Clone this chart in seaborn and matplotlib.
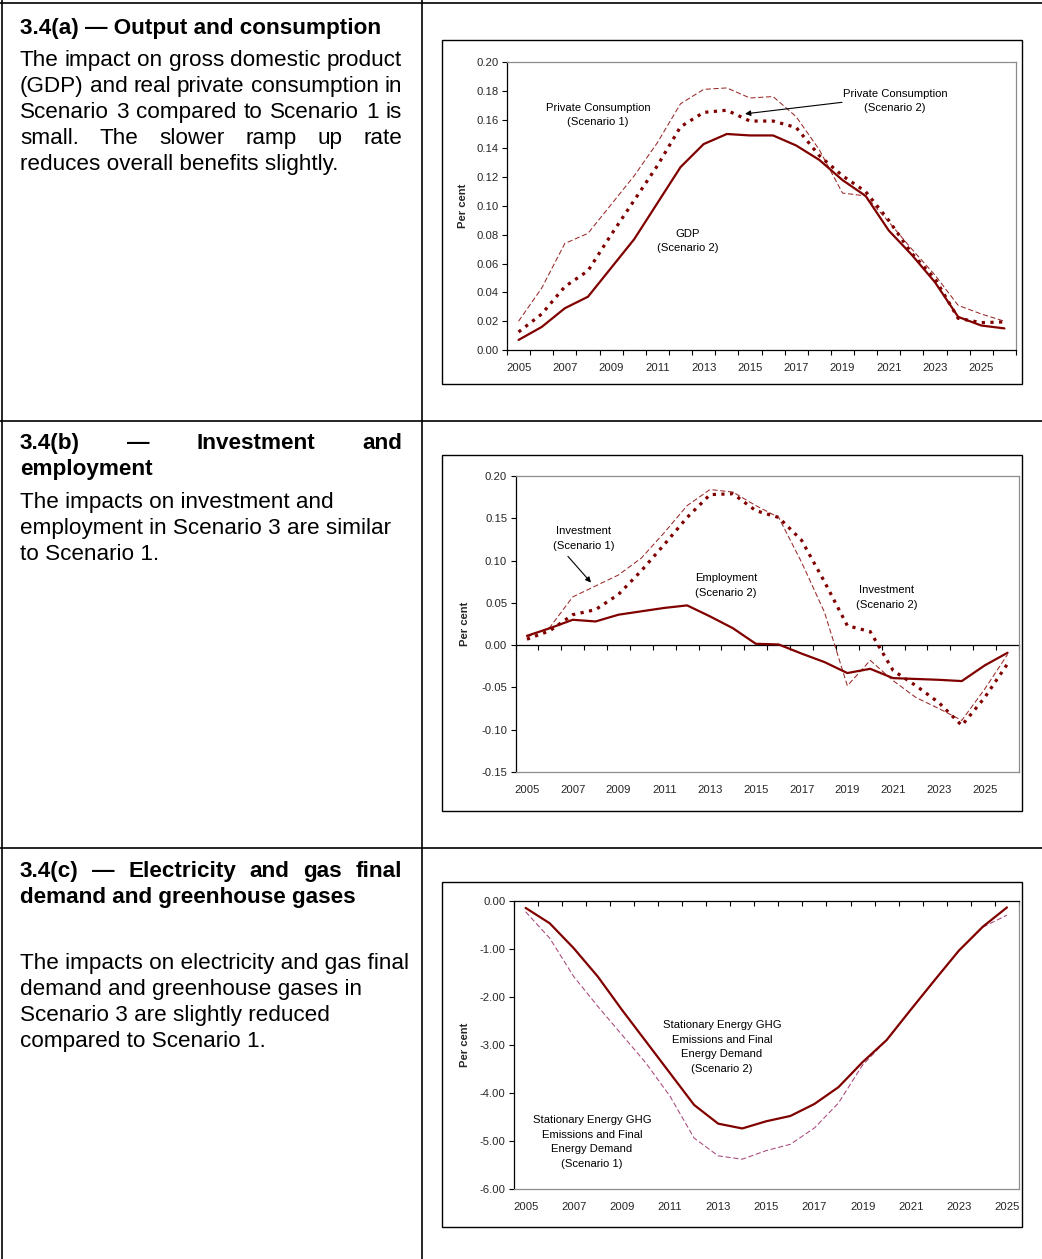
import matplotlib
matplotlib.use("Agg")
import matplotlib.pyplot as plt
import matplotlib.patches as mpatches
import matplotlib.lines as mlines
import numpy as np
import pandas as pd
import seaborn as sns

sns.set_theme(style="white")
plt.rcParams['font.family'] = ['Liberation Sans', 'DejaVu Sans']

# ---------------- data ----------------
years_ab = list(range(2005, 2027))
years_c = list(range(2005, 2026))

gdp_s2 = [0.007, 0.016, 0.029, 0.037, 0.057, 0.077, 0.102, 0.127, 0.143, 0.150, 0.149,
          0.149, 0.142, 0.132, 0.118, 0.107, 0.083, 0.066, 0.047, 0.023, 0.017, 0.015]
pc_s2 = [0.0125, 0.025, 0.044, 0.055, 0.080, 0.104, 0.128, 0.155, 0.165, 0.1665, 0.159,
         0.159, 0.1545, 0.135, 0.121, 0.110, 0.090, 0.067, 0.0495, 0.022, 0.019, 0.0195]
pc_s1 = [0.020, 0.043, 0.074, 0.081, 0.101, 0.121, 0.144, 0.171, 0.181, 0.182, 0.175,
         0.176, 0.162, 0.139, 0.109, 0.107, 0.089, 0.070, 0.052, 0.031, 0.025, 0.020]

emp_s2 = [0.011, 0.020, 0.030, 0.028, 0.036, 0.040, 0.044, 0.047, 0.034, 0.020, 0.0016,
          0.0008, -0.010, -0.020, -0.033, -0.028, -0.039, -0.040, -0.041, -0.0425, -0.024, -0.009]
inv_s2 = [0.007, 0.017, 0.036, 0.042, 0.060, 0.088, 0.119, 0.151, 0.178, 0.179, 0.159,
          0.151, 0.124, 0.075, 0.023, 0.016, -0.030, -0.048, -0.068, -0.095, -0.062, -0.022]
inv_s1 = [0.0095, 0.021, 0.057, 0.070, 0.083, 0.103, 0.133, 0.165, 0.184, 0.181, 0.165,
          0.151, 0.098, 0.039, -0.048, -0.018, -0.042, -0.062, -0.075, -0.089, -0.052, -0.011]

ghg_s2 = [-0.15, -0.47, -0.99, -1.58, -2.27, -2.93, -3.59, -4.25, -4.64, -4.74, -4.59,
          -4.48, -4.23, -3.88, -3.36, -2.90, -2.27, -1.65, -1.04, -0.54, -0.14]
ghg_s1 = [-0.23, -0.78, -1.58, -2.20, -2.79, -3.38, -4.07, -4.94, -5.31, -5.38, -5.20,
          -5.07, -4.73, -4.21, -3.42, -2.90, -2.27, -1.65, -1.04, -0.55, -0.30]

label_years_ab = list(range(2005, 2026, 2))
label_years_c = list(range(2005, 2026, 2))

# ---------------- figure ----------------
W, H = 1042, 1259
fig = plt.figure(figsize=(W / 100, H / 100), dpi=100)
fig.patch.set_facecolor("white")

DARK = "#800000"
THIN = "#9a2a2a"
PLUM = "#a8467a"
GRAY = "#8c8c8c"


def fx(px):
    return px / W


def fy(py):
    return 1 - py / H


# table grid
def hline(y, x0=0, x1=W, lw=1.2):
    fig.add_artist(mlines.Line2D([fx(x0), fx(x1)], [fy(y), fy(y)], color="black", lw=lw,
                                 transform=fig.transFigure))


def vline(x, y0=0, y1=H, lw=1.2):
    fig.add_artist(mlines.Line2D([fx(x), fx(x)], [fy(y0), fy(y1)], color="black", lw=lw,
                                 transform=fig.transFigure))


hline(2.5)
hline(420.5)
hline(847.5)
vline(2.0)
vline(422)

# chart boxes
for (x0, y0, x1, y1) in [(442, 40, 1022, 384), (442, 455, 1022, 811), (442, 882, 1022, 1227)]:
    fig.add_artist(mpatches.Rectangle((fx(x0), fy(y1)), fx(x1) - fx(x0), fy(y0) - fy(y1),
                                      fill=False, edgecolor="black", lw=1.0,
                                      transform=fig.transFigure))

# ---------------- left column text ----------------
FS = 16.2
renderer = fig.canvas.get_renderer()


def put_line(text, y_px, bold=False, justify=False, x0=20, x1=402):
    weight = "bold" if bold else "normal"
    if not justify:
        fig.text(fx(x0), fy(y_px), text, fontsize=FS, fontweight=weight,
                 ha="left", va="baseline", color="black")
        return
    words = text.split()
    ts = [fig.text(0, fy(y_px), w, fontsize=FS, fontweight=weight, ha="left",
                   va="baseline", color="black") for w in words]
    widths = [t.get_window_extent(renderer).width for t in ts]
    gap = (x1 - x0 - sum(widths)) / (len(words) - 1)
    x = x0
    for t, w in zip(ts, widths):
        t.set_x(fx(x))
        x += w + gap


put_line("3.4(a) \u2014 Output and consumption", 34, bold=True)
put_line("The impact on gross domestic product", 66, justify=True)
put_line("(GDP) and real private consumption in", 92, justify=True)
put_line("Scenario 3 compared to Scenario 1 is", 118, justify=True)
put_line("small. The slower ramp up rate", 144, justify=True)
put_line("reduces overall benefits slightly.", 170)

put_line("3.4(b) \u2014 Investment and", 449, bold=True, justify=True)
put_line("employment", 475, bold=True)
put_line("The impacts on investment and", 508)
put_line("employment in Scenario 3 are similar", 534)
put_line("to Scenario 1.", 560)

put_line("3.4(c) \u2014 Electricity and gas final", 877, bold=True, justify=True)
put_line("demand and greenhouse gases", 903, bold=True)
put_line("The impacts on electricity and gas final", 969)
put_line("demand and greenhouse gases in", 995)
put_line("Scenario 3 are slightly reduced", 1021)
put_line("compared to Scenario 1.", 1047)

# ---------------- charts ----------------
TFS = 8.1


def make_ax(left, right, top, bottom):
    return fig.add_axes([fx(left), fy(bottom), fx(right) - fx(left), fy(top) - fy(bottom)])


def style_common(ax, years, label_years, ylim, yticks):
    ax.set_facecolor("white")
    ax.set_xlim(years[0] - 0.5, years[-1] + 0.5)
    ax.set_ylim(*ylim)
    ax.set_yticks(yticks)
    ax.set_yticklabels([f"{v:.2f}" for v in yticks])
    ax.set_xticks(label_years)
    ax.set_xticklabels([str(y) for y in label_years])
    ax.set_xticks(np.arange(years[0] - 0.5, years[-1] + 1.0, 1.0), minor=True)
    ax.tick_params(axis="y", which="major", direction="out", length=3.5, width=0.8,
                   color="black", labelsize=TFS, pad=2.5, left=True)
    ax.tick_params(axis="x", which="major", length=0, labelsize=TFS, pad=9.5)
    ax.set_xlabel("")
    ax.set_ylabel("")
    for s in ["top", "right", "bottom"]:
        ax.spines[s].set_color(GRAY)
        ax.spines[s].set_linewidth(0.9)
    ax.spines["left"].set_color("black")
    ax.spines["left"].set_linewidth(0.9)
    ax.grid(False)


def line(ax, years, vals, kind, color=None):
    df = pd.DataFrame({"year": years, "value": vals})
    if kind == "solid":
        sns.lineplot(data=df, x="year", y="value", ax=ax, color=DARK, lw=1.6,
                     linestyle="-", solid_joinstyle="round")
    elif kind == "dotted":
        sns.lineplot(data=df, x="year", y="value", ax=ax, color=DARK, lw=2.3,
                     linestyle=(0, (1.0, 1.7)))
    elif kind == "thin":
        sns.lineplot(data=df, x="year", y="value", ax=ax, color=color or THIN, lw=0.75,
                     linestyle=(0, (5, 2.5)))


def note(ax, x, y, s):
    ax.text(x, y, s, fontsize=TFS, ha="center", va="center", color="black", linespacing=1.55)


# --- (a)
axA = make_ax(507, 1016, 62, 350)
line(axA, years_ab, pc_s1, "thin")
line(axA, years_ab, pc_s2, "dotted")
line(axA, years_ab, gdp_s2, "solid")
style_common(axA, years_ab, label_years_ab, (0, 0.20), np.round(np.arange(0, 0.201, 0.02), 2))
axA.spines["bottom"].set_color("black")
axA.tick_params(axis="x", which="minor", direction="out", length=3.5, width=0.8,
                color="black", bottom=True)
note(axA, 2008.43, 0.163, "Private Consumption\n(Scenario 1)")
note(axA, 2021.27, 0.173, "Private Consumption\n(Scenario 2)")
note(axA, 2012.32, 0.0757, "GDP\n(Scenario 2)")
axA.annotate("", xy=(2014.79, 0.164), xytext=(2018.98, 0.172),
             arrowprops=dict(arrowstyle="-|>", color="black", lw=0.8, mutation_scale=8,
                             shrinkA=0, shrinkB=0))

# --- (b)
axB = make_ax(515.5, 1019, 476, 772)
line(axB, years_ab, inv_s1, "thin")
line(axB, years_ab, inv_s2, "dotted")
line(axB, years_ab, emp_s2, "solid")
style_common(axB, years_ab, label_years_ab, (-0.15, 0.20),
             np.round(np.arange(-0.15, 0.201, 0.05), 2))
axB.tick_params(axis="x", which="minor", length=0)
zero_frac = (0 - (-0.15)) / (0.20 - (-0.15))
sec = axB.secondary_xaxis(zero_frac)
sec.set_xticks(np.arange(years_ab[0] - 0.5, years_ab[-1] + 1.0, 1.0))
sec.set_xticklabels([])
sec.tick_params(direction="out", length=3.5, width=0.8, color="black")
for s in sec.spines.values():
    s.set_color("black")
    s.set_linewidth(0.9)
note(axB, 2007.49, 0.126, "Investment\n(Scenario 1)")
note(axB, 2013.7, 0.0706, "Employment\n(Scenario 2)")
note(axB, 2020.7, 0.0564, "Investment\n(Scenario 2)")
axB.annotate("", xy=(2007.80, 0.074), xytext=(2006.79, 0.105),
             arrowprops=dict(arrowstyle="-|>", color="black", lw=0.8, mutation_scale=8,
                             shrinkA=0, shrinkB=0))

# --- (c)
axC = make_ax(513.6, 1019, 900.7, 1189)
line(axC, years_c, ghg_s1, "thin", color=PLUM)
line(axC, years_c, ghg_s2, "solid")
style_common(axC, years_c, label_years_c, (-6, 0), np.arange(-6, 0.01, 1.0))
axC.spines["top"].set_color("black")
axC.tick_params(axis="x", which="minor", direction="in", length=3.5, width=0.8,
                color="black", top=True, bottom=False)
note(axC, 2013.16, -3.045, "Stationary Energy GHG\nEmissions and Final\nEnergy Demand\n(Scenario 2)")
note(axC, 2007.76, -5.02, "Stationary Energy GHG\nEmissions and Final\nEnergy Demand\n(Scenario 1)")

for ax in (axA, axB, axC):
    leg = ax.get_legend()
    if leg is not None:
        leg.remove()

# y labels
for (x, y) in [(463, 206), (465, 624), (465, 1045)]:
    fig.text(fx(x), fy(y), "Per cent", rotation=90, fontsize=TFS, fontweight="bold",
             ha="center", va="center")

fig.savefig("out.png", dpi=100)
